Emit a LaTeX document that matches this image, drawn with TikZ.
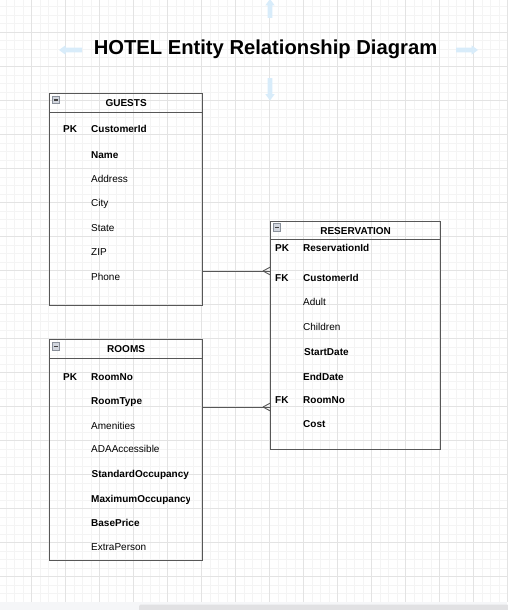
\documentclass[tikz,border=0pt]{standalone}
\usepackage{fontspec}
\setmainfont{Liberation Sans}
\definecolor{gridminor}{HTML}{F4F4F4}
\definecolor{gridmajor}{HTML}{E3E3E3}
\definecolor{boxc}{HTML}{575757}
\definecolor{hint}{HTML}{D8ECFA}
\definecolor{iconfill}{HTML}{D2D6DE}
\definecolor{iconedge}{HTML}{8A909A}
\definecolor{barbg}{HTML}{F5F6F8}
\definecolor{barthumb}{HTML}{E1E1E3}
\tikzset{
  hdrbox/.style={draw=boxc, line width=1.25pt, anchor=north west, inner sep=0pt,
    minimum height=19pt, text height=7.2pt, text depth=0pt,
    font=\bfseries\fontsize{10}{12}\selectfont},
  bodybox/.style={draw=boxc, line width=1.25pt, anchor=north west, inner sep=0pt},
  attr/.style={anchor=west, inner sep=0pt, text height=7.2pt, text depth=0pt,
    font=\fontsize{10}{12}\selectfont},
  battr/.style={attr, font=\bfseries\fontsize{10}{12}\selectfont},
  iconbox/.style={draw=iconedge, fill=iconfill, line width=0.6pt, inner sep=0pt,
    minimum width=7.5pt, minimum height=7.5pt,
    path picture={\draw[line width=1.6pt, color=black!75]
      ([xshift=-2.3pt]path picture bounding box.center) --
      ([xshift=2.3pt]path picture bounding box.center);}},
  conn/.style={draw=boxc, line width=0.9pt},
  title/.style={font=\bfseries\fontsize{20.2}{24}\selectfont, inner sep=0pt}
}
\begin{document}
\begin{tikzpicture}[x=1pt, y=-1pt]
\useasboundingbox (0,0) rectangle (507,610);
% background and grid
\fill[white] (0,0) rectangle (507,610);
\foreach \i in {0,...,58} \draw[gridminor, line width=0.6pt] ({6+8.5*\i},0) -- ({6+8.5*\i},602);
\foreach \i in {0,...,70} \draw[gridminor, line width=0.6pt] (0,{6.8+8.5*\i}) -- (507,{6.8+8.5*\i});
\foreach \i in {-1,...,14} \draw[gridmajor, line width=0.7pt] ({31.5+34*\i},0) -- ({31.5+34*\i},602);
\foreach \i in {0,...,16} \draw[gridmajor, line width=0.7pt] (0,{32.3+34*\i}) -- (507,{32.3+34*\i});
% bottom scrollbar strip
\fill[barbg] (0,602) rectangle (507,610);
\fill[barthumb, rounded corners=1.5pt] (139,604.5) rectangle (509,612);
% faded hint arrows
\fill[hint] (59,50) -- (65.5,45.3) -- (65.5,47.6) -- (82,47.6) -- (82,52.4) -- (65.5,52.4) -- (65.5,54.7) -- cycle;
\fill[hint] (478,50) -- (471.5,45.3) -- (471.5,47.6) -- (456,47.6) -- (456,52.4) -- (471.5,52.4) -- (471.5,54.7) -- cycle;
\fill[hint] (270,-1) -- (274.7,5.5) -- (272.4,5.5) -- (272.4,18) -- (267.6,18) -- (267.6,5.5) -- (265.3,5.5) -- cycle;
\fill[hint] (270,100.5) -- (274.7,94) -- (272.4,94) -- (272.4,78) -- (267.6,78) -- (267.6,94) -- (265.3,94) -- cycle;
% title
\node[title] (ttl) at (265.5,49.5) {HOTEL Entity Relationship Diagram};

% GUESTS
\node[hdrbox, minimum width=153pt] (gh) at (49,93) {GUESTS};
\node[bodybox, minimum width=153pt, minimum height=193pt] (gb) at (49,112) {};
\node[iconbox] (gi) at (56,100) {};
\node[battr] (gk1) at (63,129) {PK};
\node[battr] (g1) at (91,129) {CustomerId};
\node[battr] (g2) at (91,155) {Name};
\node[attr] (g3) at (91,179) {Address};
\node[attr] (g4) at (91,203) {City};
\node[attr] (g5) at (91,228) {State};
\node[attr] (g6) at (91,252) {ZIP};
\node[attr] (g7) at (91,277) {Phone};

% RESERVATION
\node[hdrbox, minimum width=170pt, minimum height=18pt] (rh) at (270,221) {RESERVATION};
\node[bodybox, minimum width=170pt, minimum height=210pt] (rb) at (270,239) {};
\node[iconbox] (ri) at (277,227.5) {};
\node[battr] (rk1) at (275,248) {PK};
\node[battr] (r1) at (303,248) {ReservationId};
\node[battr] (rk2) at (275,278) {FK};
\node[battr] (r2) at (303,278) {CustomerId};
\node[attr] (r3) at (303,302) {Adult};
\node[attr] (r4) at (303,327) {Children};
\node[battr] (r5) at (304,352) {StartDate};
\node[battr] (r6) at (303,377) {EndDate};
\node[battr] (rk3) at (275,400) {FK};
\node[battr] (r7) at (303,400) {RoomNo};
\node[battr] (r8) at (303,424) {Cost};

% ROOMS
\node[hdrbox, minimum width=153pt] (mh) at (49,339) {ROOMS};
\node[bodybox, minimum width=153pt, minimum height=202pt] (mb) at (49,358) {};
\node[iconbox] (mi) at (56,346.5) {};
\node[battr] (mk1) at (63,377) {PK};
\begin{scope}
\clip (49,358) rectangle (189,560);
\node[battr] (m1) at (91,377) {RoomNo};
\node[battr] (m2) at (91,401) {RoomType};
\node[attr] (m3) at (91,426) {Amenities};
\node[attr] (m4) at (91,449) {ADAAccessible};
\node[battr] (m5) at (91.5,474) {StandardOccupancy};
\node[battr] (m6) at (91,499) {MaximumOccupancy};
\node[battr] (m7) at (91,523) {BasePrice};
\node[attr] (m8) at (91,547) {ExtraPerson};
\end{scope}

% connectors
\coordinate (c1) at (0,271);
\coordinate (c2) at (0,407);
\draw[conn] (gb.east |- c1) -- (rb.west |- c1);
\draw[conn] ([xshift=-7pt]rb.west |- c1) -- ([yshift=-3.8pt]rb.west |- c1);
\draw[conn] ([xshift=-7pt]rb.west |- c1) -- ([yshift=3.8pt]rb.west |- c1);
\draw[conn] (mb.east |- c2) -- (rb.west |- c2);
\draw[conn] ([xshift=-7pt]rb.west |- c2) -- ([yshift=-3.8pt]rb.west |- c2);
\draw[conn] ([xshift=-7pt]rb.west |- c2) -- ([yshift=3.8pt]rb.west |- c2);
\end{tikzpicture}
\end{document}
